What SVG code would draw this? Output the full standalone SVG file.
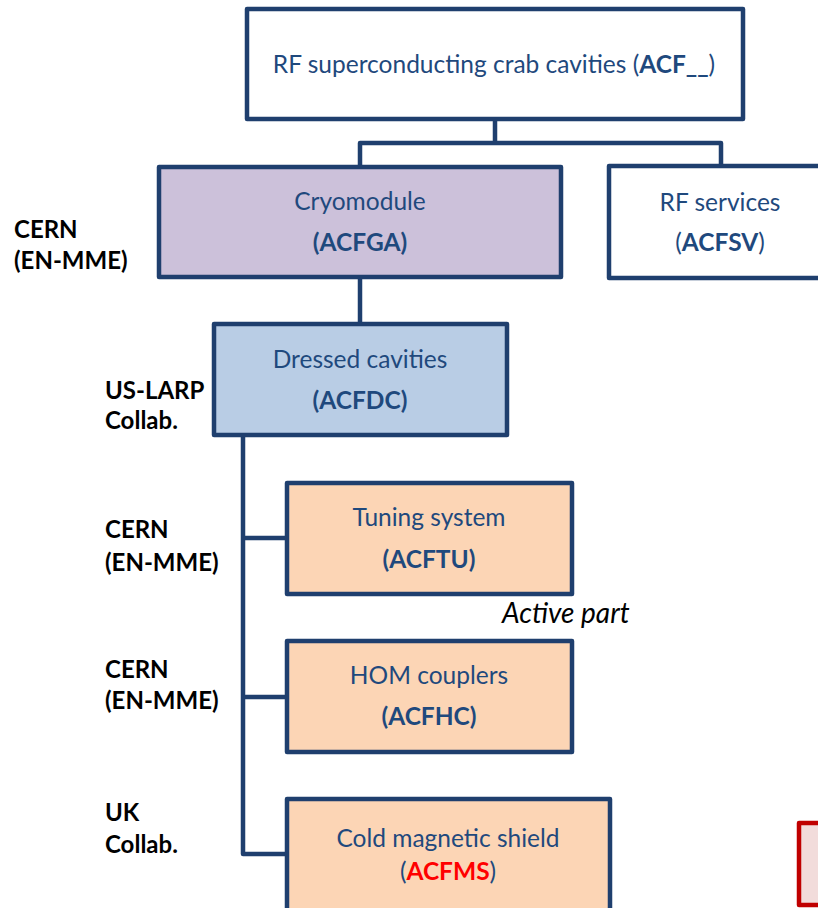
<svg xmlns="http://www.w3.org/2000/svg" width="818" height="908" viewBox="0 0 818 908">
<style>
.box{stroke:#1F3F6E;stroke-width:4.5;stroke-linejoin:round}
.t{font-family:Lato,"Noto Sans",sans-serif;font-size:24.5px;fill:#1F497D;text-anchor:middle}
.b{font-weight:bold}
.lab{font-family:Lato,"Noto Sans",sans-serif;font-size:24px;font-weight:bold;fill:#000}
.con{stroke:#1F3F6E;stroke-width:4.5;fill:none;stroke-linejoin:round}
</style>
<rect width="818" height="908" fill="#fff"/>
<g id="connectors">
<path class="con" d="M495 119V143M360 167V143H721V166"/>
<path class="con" d="M360 277V324"/>
<path class="con" d="M243 435V854H287M243 538H287M243 697H287"/>
</g>
<g id="n-acf">
<rect class="box" x="247" y="9" width="496" height="110" fill="#fff"/>
<text class="t" x="494" y="73">RF superconducting crab cavities (<tspan class="b">ACF__</tspan>)</text>
</g>
<g id="n-acfga">
<rect class="box" x="159" y="167" width="402" height="110" fill="#CCC1DA"/>
<text class="t" x="360" y="210">Cryomodule</text>
<text class="t b" x="360" y="251">(ACFGA)</text>
</g>
<g id="n-acfsv">
<rect class="box" x="609" y="166" width="226" height="112" fill="#fff"/>
<text class="t" x="720" y="211">RF services</text>
<text class="t" x="720" y="251">(<tspan class="b">ACFSV</tspan>)</text>
</g>
<g id="n-acfdc">
<rect class="box" x="214" y="324" width="293" height="111" fill="#B9CDE5"/>
<text class="t" x="360" y="368">Dressed cavities</text>
<text class="t b" x="360" y="409">(ACFDC)</text>
</g>
<g id="n-acftu">
<rect class="box" x="287" y="483" width="285" height="111" fill="#FCD5B5"/>
<text class="t" x="429" y="526">Tuning system</text>
<text class="t b" x="429" y="568">(ACFTU)</text>
</g>
<g id="n-acfhc">
<rect class="box" x="287" y="641" width="285" height="111" fill="#FCD5B5"/>
<text class="t" x="429" y="684">HOM couplers</text>
<text class="t b" x="429" y="725">(ACFHC)</text>
</g>
<g id="n-acfms">
<rect class="box" x="287" y="799" width="323" height="130" fill="#FCD5B5"/>
<text class="t" x="448" y="847">Cold magnetic shield</text>
<text class="t" x="448" y="880">(<tspan class="b" fill="#FF0000">ACFMS</tspan>)</text>
</g>
<g id="n-red">
<rect x="799" y="823" width="60" height="82" fill="#F2DCDB" stroke="#C00000" stroke-width="4.5" stroke-linejoin="round"/>
</g>
<g id="labels">
<text class="lab" x="14" y="238">CERN</text>
<text class="lab" x="14" y="269">(EN-MME)</text>
<text class="lab" x="105" y="399">US-LARP</text>
<text class="lab" x="105" y="429">Collab.</text>
<text class="lab" x="105" y="538">CERN</text>
<text class="lab" x="105" y="571">(EN-MME)</text>
<text class="lab" x="105" y="678">CERN</text>
<text class="lab" x="105" y="709">(EN-MME)</text>
<text class="lab" x="105" y="821">UK</text>
<text class="lab" x="105" y="853">Collab.</text>
<text x="502" y="623" font-family="Lato,'Noto Sans',sans-serif" font-size="28" font-style="italic" fill="#000">Active part</text>
</g>
</svg>
